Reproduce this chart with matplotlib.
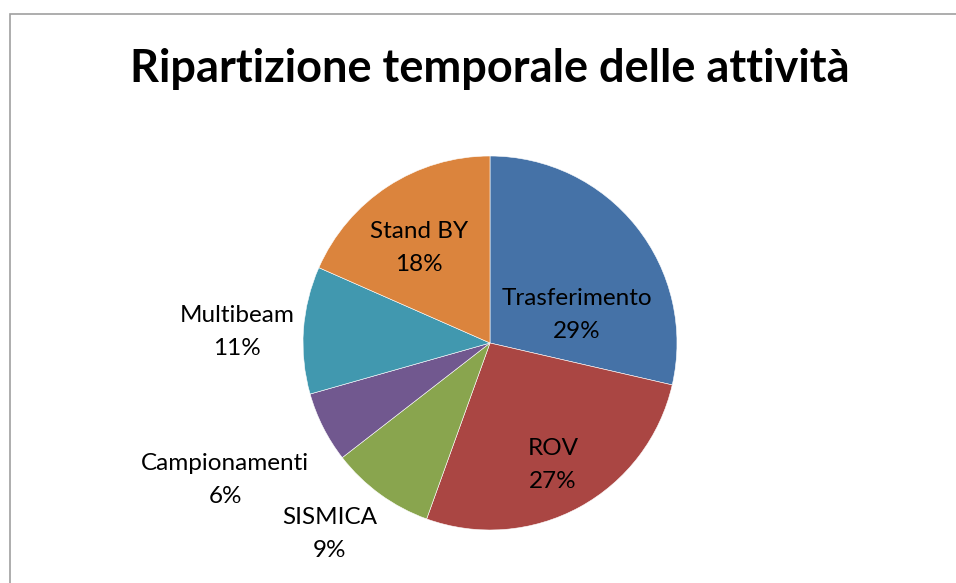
import matplotlib.pyplot as plt
from matplotlib.patches import Rectangle

# data
categories = ["Trasferimento", "ROV", "SISMICA", "Campionamenti", "Multibeam", "Stand BY"]
shares = [28.6, 26.9, 9.0, 6.1, 11.0, 18.4]
colors = ["#4572A7", "#AA4643", "#89A54E", "#71588F", "#4198AF", "#DB843D"]
title = "Ripartizione temporale delle attività"

# label placement (in pie-radius units), Excel "best fit" style
label_pos = [(0.465, 0.15), (0.337, -0.652), (-0.856, -1.021),
             (-1.417, -0.733), (-1.353, 0.059), (-0.380, 0.508)]

plt.rcParams['font.family'] = ['Lato', 'DejaVu Sans']

W, H, dpi = 956, 583, 100
fig = plt.figure(figsize=(W / dpi, H / dpi), dpi=dpi)
ax = fig.add_axes([0, 0, 1, 1])

cx, cy, r = 490, 343, 187  # pixel centre and radius
ax.pie(shares, colors=colors, startangle=90, counterclock=False, radius=1,
       wedgeprops=dict(edgecolor="white", linewidth=0.4))
ax.set_xlim(-cx / r, (W - cx) / r)
ax.set_ylim(-(H - cy) / r, cy / r)
ax.set_aspect('equal')
ax.axis('off')

total = sum(shares)
for name, val, (x, y) in zip(categories, shares, label_pos):
    pct = int(val / total * 100 + 0.5)
    ax.text(x, y, f"{name}\n{pct}%", ha="center", va="center",
            fontsize=17.5, linespacing=1.7, color="black")

fig.text(490 / W, 1 - 69 / H, title, ha="center", va="center",
         fontsize=32.5, fontweight="bold")

# chart area frame (runs off right/bottom edges)
fig.patches.append(Rectangle((9.5 / W, -0.1), 1.2, 1.1 - 14.5 / H,
                             transform=fig.transFigure, fill=False,
                             edgecolor="#a0a0a0", linewidth=1.2))

fig.savefig("out.png", dpi=dpi)
